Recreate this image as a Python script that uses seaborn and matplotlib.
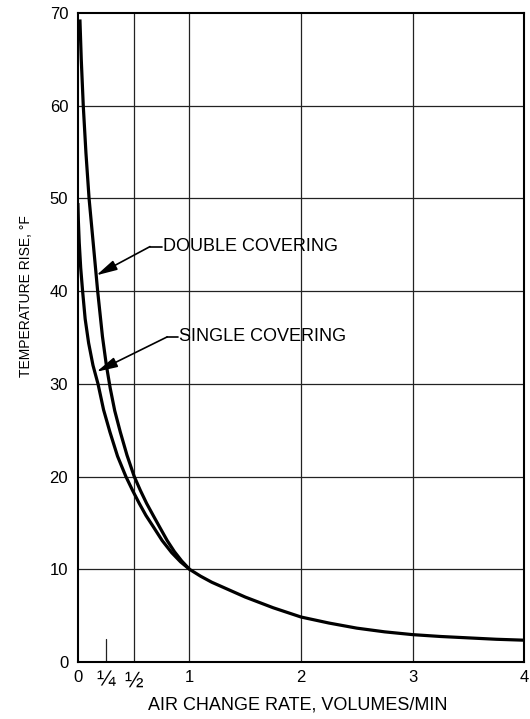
#!/usr/bin/env python
# Temperature rise vs air change rate, single and double covering

import numpy as np
import pandas as pd
import matplotlib
matplotlib.use('Agg')
import matplotlib.pyplot as plt
import seaborn as sns

# Values
tail_x = [1.1, 1.2, 1.35, 1.5, 1.75, 2.0, 2.25, 2.5, 2.75, 3.0, 3.25, 3.5, 3.75, 4.0]
tail_y = [9.25, 8.6, 7.8, 7.0, 5.85, 4.85, 4.2, 3.65, 3.25, 2.95, 2.75, 2.6, 2.45, 2.35]

double_x = [0.018, 0.03, 0.048, 0.072, 0.10, 0.137, 0.177, 0.22, 0.255, 0.29, 0.33,
            0.38, 0.44, 0.505, 0.56, 0.616, 0.675, 0.735, 0.80, 0.865, 0.93, 1.0] + tail_x
double_y = [69.3, 65.0, 60.0, 54.9, 50.0, 45.2, 40.0, 35.1, 32.0, 29.5, 27.1,
            24.8, 22.3, 20.0, 18.5, 17.1, 15.8, 14.5, 13.1, 11.9, 10.9, 10.0] + tail_y
single_x = [0.0, 0.004, 0.012, 0.025, 0.042, 0.065, 0.096, 0.135, 0.18, 0.23, 0.287,
            0.355, 0.43, 0.49, 0.55, 0.61, 0.675, 0.755, 0.84, 0.92, 1.0]
single_y = [49.5, 47.6, 45.2, 42.5, 40.0, 37.0, 34.4, 32.0, 30.0, 27.2, 24.8,
            22.2, 20.0, 18.5, 17.1, 15.8, 14.6, 13.1, 11.8, 10.8, 10.0]

x_ticks = [0, 0.25, 0.5, 1, 2, 3, 4]
x_tick_labels = ['0', '\u00bc', '\u00bd', '1', '2', '3', '4']
y_ticks = [0, 10, 20, 30, 40, 50, 60, 70]
v_grid = [0.5, 1, 2, 3]
h_grid = [10, 20, 30, 40, 50, 60]

sns.set_style('white')
plt.rcParams['font.family'] = ['Liberation Sans', 'DejaVu Sans']

df = pd.concat([
    pd.DataFrame({'rate': double_x, 'rise': double_y, 'covering': 'Double'}),
    pd.DataFrame({'rate': single_x, 'rise': single_y, 'covering': 'Single'}),
])

fig = plt.figure(figsize=(5.30, 7.19), dpi=100)
ax = fig.add_axes([0.147, 0.0793, 0.842, 0.9027])

for v in v_grid:
    ax.axvline(v, color='#222222', lw=0.9, zorder=1)
for h in h_grid:
    ax.axhline(h, color='#222222', lw=0.9, zorder=1)
# short mark at 1/4
ax.axvline(0.25, ymin=0, ymax=0.036, color='#222222', lw=0.9, zorder=1)

sns.lineplot(data=df, x='rate', y='rise', units='covering', estimator=None,
             color='black', lw=2.3, ax=ax, zorder=3, legend=False,
             solid_joinstyle='round', solid_capstyle='butt')

ax.set_xlim(0, 4)
ax.set_ylim(0, 70)
ax.set_xticks(x_ticks)
ax.set_xticklabels(x_tick_labels)
ax.set_yticks(y_ticks)
ax.tick_params(axis='both', length=0, labelsize=12, colors='black')
ax.tick_params(axis='x', pad=6)
ax.tick_params(axis='y', pad=7)
for lbl in ax.get_xticklabels()[1:3]:
    lbl.set_fontsize(16)

for s in ax.spines.values():
    s.set_linewidth(1.5)
    s.set_color('black')

ax.set_xlabel('AIR CHANGE RATE, VOLUMES/MIN', fontsize=13, color='black')
ax.set_ylabel('TEMPERATURE RISE, \u00b0F', fontsize=10, color='black')
ax.xaxis.set_label_coords(0.492, -0.053)
ax.yaxis.set_label_coords(-0.100, 0.564)

# callouts
arrow = dict(arrowstyle='-|>,head_length=0.9,head_width=0.22', color='black',
             lw=1.2, shrinkA=0, shrinkB=0, mutation_scale=14)
ax.annotate('', xy=(0.165, 41.7), xytext=(0.646, 44.8), arrowprops=arrow, zorder=4)
ax.plot([0.646, 0.753], [44.8, 44.8], color='black', lw=1.2, zorder=4)
ax.text(0.765, 44.8, 'DOUBLE COVERING', fontsize=13, va='center', ha='left', color='black')

ax.annotate('', xy=(0.167, 31.3), xytext=(0.80, 35.06), arrowprops=arrow, zorder=4)
ax.plot([0.80, 0.897], [35.06, 35.06], color='black', lw=1.2, zorder=4)
ax.text(0.91, 35.06, 'SINGLE COVERING', fontsize=13, va='center', ha='left', color='black')

plt.savefig('out.png', dpi=100)
plt.close()
